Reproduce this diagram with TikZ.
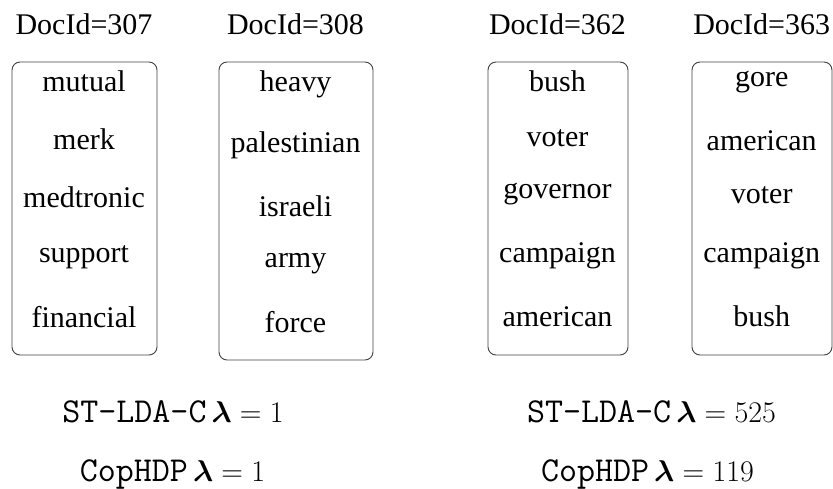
\RequirePackage{fix-cm}
\documentclass[tikz,border=0pt]{standalone}
\usepackage{bm}
\usepackage{fontspec}
\setmainfont{Liberation Serif}
\begin{document}
\begin{tikzpicture}[x=1pt,y=-1pt,
  doc/.style={rectangle,rounded corners=8pt,draw=black!75,line width=0.9pt},
  word/.style={anchor=base,inner sep=0pt,font=\fontsize{30}{33}\selectfont},
  lab/.style={anchor=base,inner sep=0pt,font=\fontsize{30}{33}\selectfont}]
\useasboundingbox (0,0) rectangle (833,489);
% headers
\node[word] (h1) at (84,35) {DocId=307};
\node[word] (h2) at (295.5,35) {DocId=308};
\node[word] (h3) at (557.5,35) {DocId=362};
\node[word] (h4) at (761.7,35) {DocId=363};
% boxes
\draw[doc] (12,62) rectangle (157,355);
\draw[doc] (219,62) rectangle (373,360);
\draw[doc] (488,62) rectangle (628,355);
\draw[doc] (692,62) rectangle (832,355);
% box 1
\node[word] (a1) at (84,92) {mutual};
\node[word] (a2) at (84,150) {merk};
\node[word] (a3) at (84,208) {medtronic};
\node[word] (a4) at (84,263) {support};
\node[word] (a5) at (84,327) {financial};
% box 2
\node[word] (b1) at (295.5,92) {heavy};
\node[word] (b2) at (295.5,153) {palestinian};
\node[word] (b3) at (295.5,217) {israeli};
\node[word] (b4) at (295.5,268) {army};
\node[word] (b5) at (295.5,332) {force};
% box 3
\node[word] (c1) at (557.5,92) {bush};
\node[word] (c2) at (557.5,147) {voter};
\node[word] (c3) at (557.5,199) {governor};
\node[word] (c4) at (557.5,263) {campaign};
\node[word] (c5) at (557.5,326) {american};
% box 4
\node[word] (d1) at (761.7,87) {gore};
\node[word] (d2) at (761.7,151) {american};
\node[word] (d3) at (761.7,204) {voter};
\node[word] (d4) at (761.7,263) {campaign};
\node[word] (d5) at (761.7,326) {bush};
% bottom labels
\node[lab] (s1) at (173,422) {{\fontsize{35}{38}\selectfont\ttfamily ST-LDA-C}\,$\bm{\lambda}=1$};
\node[lab] (p1) at (172.5,481) {{\fontsize{35}{38}\selectfont\ttfamily CopHDP}\,$\bm{\lambda}=1$};
\node[lab] (s2) at (651.5,422) {{\fontsize{35}{38}\selectfont\ttfamily ST-LDA-C}\,$\bm{\lambda}=525$};
\node[lab] (p2) at (647.5,481) {{\fontsize{35}{38}\selectfont\ttfamily CopHDP}\,$\bm{\lambda}=119$};
\end{tikzpicture}
\end{document}
